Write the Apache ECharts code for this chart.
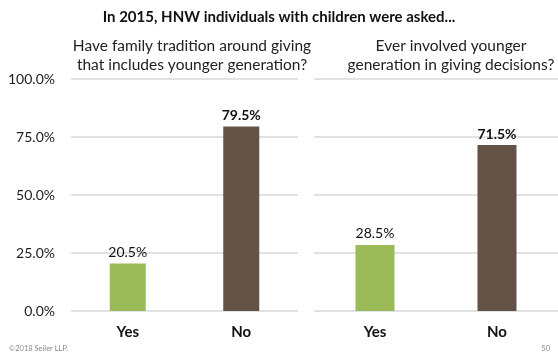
<!DOCTYPE html>
<html><head><meta charset="utf-8">
<script src="https://cdn.jsdelivr.net/npm/echarts@6/dist/echarts.min.js"></script>
<style>html,body{margin:0;padding:0;background:#fff}#c{width:558px;height:353px}</style>
</head><body><div id="c"></div>
<script>
const categories = ['Yes', 'No'];
const traditionValues = [20.5, 79.5];
const involvedValues = [28.5, 71.5];
const yTicks = [0, 25, 50, 75, 100];
const title = 'In 2015, HNW individuals with children were asked...';
const subtitleLeft = 'Have family tradition around giving\nthat includes younger generation?';
const subtitleRight = 'Ever involved younger\ngeneration in giving decisions?';
const barColors = ['#9BBB59', '#635245'];

const FONT = 'Lato';
const chart = echarts.init(document.getElementById('c'), null, {renderer: 'canvas'});

function mkData(vals) {
  return vals.map((v, i) => ({
    value: v,
    itemStyle: {color: barColors[i]},
    label: {fontWeight: i === 1 ? 'bold' : 'normal'}
  }));
}
function xAx(idx) {
  return {
    type: 'category', gridIndex: idx, data: categories,
    axisLine: {show: false}, axisTick: {show: false},
    axisLabel: {color: '#111', fontSize: 15, fontWeight: 'bold', fontFamily: FONT, margin: 14}
  };
}
function yAx(idx, showLabels) {
  return {
    type: 'value', gridIndex: idx, min: yTicks[0], max: yTicks[yTicks.length - 1], interval: yTicks[1] - yTicks[0],
    axisLine: {show: false}, axisTick: {show: false},
    axisLabel: {show: showLabels, color: '#222', fontSize: 14, fontFamily: FONT, margin: 16,
      formatter: v => v.toFixed(1) + '%'},
    splitLine: {lineStyle: {color: '#D9D9D9', width: 1.5}}
  };
}
const labelCfg = {show: true, position: 'top', distance: 4, color: '#111', fontSize: 14, fontFamily: FONT,
  formatter: p => p.value.toFixed(1) + '%'};

chart.setOption({
  animation: false,
  title: [
    {text: title, left: 'center', top: 5, textStyle: {fontSize: 15, fontWeight: 'bold', color: '#111', fontFamily: FONT}},
    {text: subtitleLeft, left: 187, top: 31, textAlign: 'center', textStyle: {fontSize: 15.5, fontWeight: 'normal', color: '#222', fontFamily: FONT, lineHeight: 19}},
    {text: subtitleRight, left: 446, top: 31, textAlign: 'center', textStyle: {fontSize: 15.5, fontWeight: 'normal', color: '#222', fontFamily: FONT, lineHeight: 19}},
    {text: '©2018 Seiler LLP.', left: 4, top: 340, textStyle: {fontSize: 7.5, fontWeight: 'normal', color: '#888', fontFamily: FONT}},
    {text: '50', right: 3, top: 340, textStyle: {fontSize: 7.5, fontWeight: 'normal', color: '#888', fontFamily: FONT}}
  ],
  grid: [
    {left: 71, top: 79, width: 227, height: 232},
    {left: 314, top: 79, width: 244, height: 232}
  ],
  xAxis: [xAx(0), xAx(1)],
  yAxis: [yAx(0, true), yAx(1, false)],
  series: [
    {type: 'bar', xAxisIndex: 0, yAxisIndex: 0, barWidth: 36, data: mkData(traditionValues), label: labelCfg},
    {type: 'bar', xAxisIndex: 1, yAxisIndex: 1, barWidth: 39, data: mkData(involvedValues), label: labelCfg}
  ]
});
</script></body></html>
